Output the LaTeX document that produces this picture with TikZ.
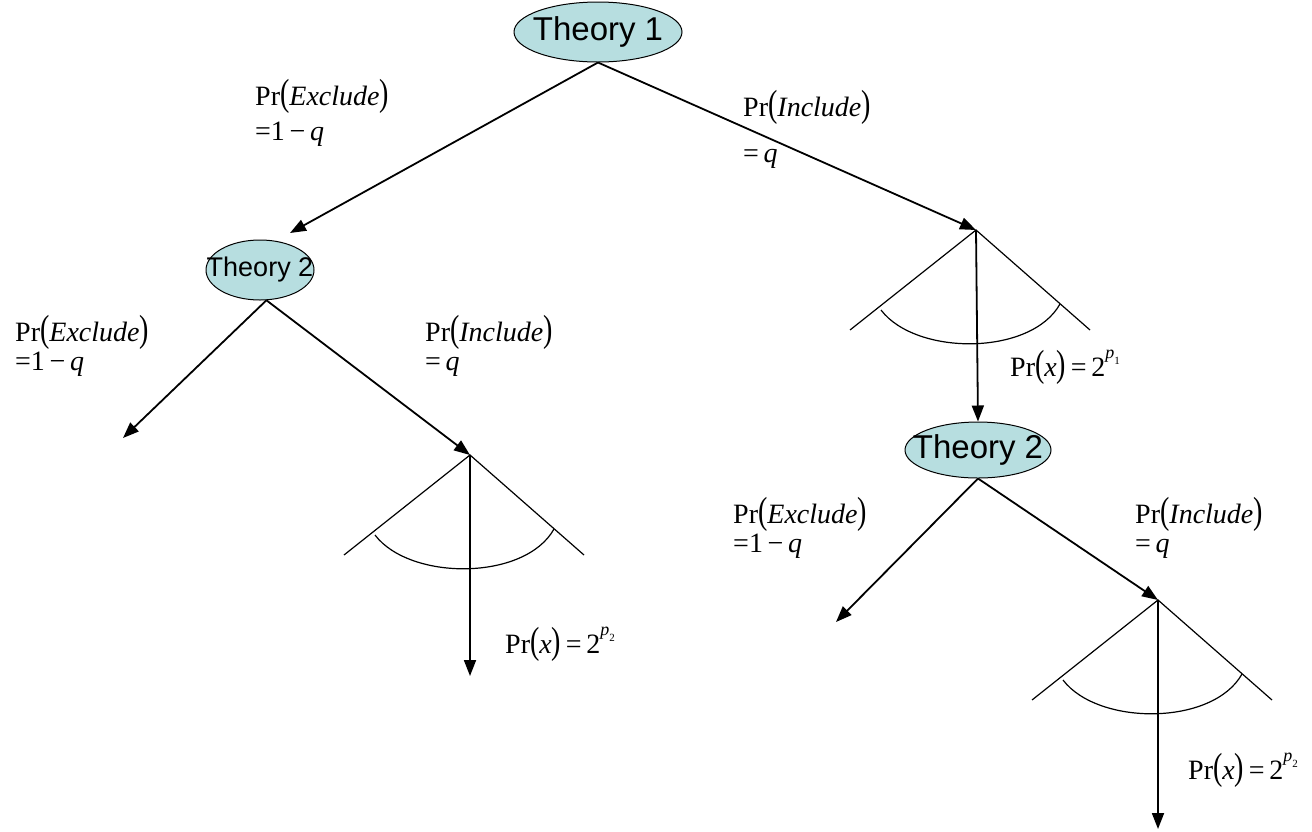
\documentclass[tikz,border=0pt]{standalone}
\usepackage{fontspec}
\setmainfont{Liberation Serif}
\setsansfont{Liberation Sans}
\usetikzlibrary{shapes.geometric,arrows.meta}
\definecolor{tcyan}{RGB}{183,222,224}
\newcommand{\bp}[1]{\scalebox{1}[1.35]{#1}}
\newcommand{\PrE}{Pr\bp{(}\textit{Exclude}\bp{)}}
\newcommand{\PrI}{Pr\bp{(}\textit{Include}\bp{)}}
\newcommand{\PrX}[1]{Pr\bp{(}\textit{x}\bp{)}\,=\,2\raisebox{0.62em}{\fontsize{18}{18}\selectfont\textit{p}\raisebox{-0.3em}{\fontsize{11}{11}\selectfont #1}}}
\newcommand{\zb}[1]{\makebox[0pt]{#1}}
\begin{document}
\begin{tikzpicture}[x=1pt,y=-1pt,
  theory/.style={ellipse, draw, fill=tcyan, line width=1pt, inner sep=0pt, font=\sffamily\fontsize{33}{33}\selectfont},
  lbl/.style={anchor=base west, inner sep=0pt, font=\fontsize{28}{28}\selectfont},
  arr/.style={line width=1.8pt, -{Triangle[length=16pt,width=12pt]}},
  fanline/.style={line width=1.2pt}]
\useasboundingbox (0,0) rectangle (1312,831);

\node[theory, minimum width=168pt, minimum height=60pt] (t1) at (598,32) {\zb{Theory 1}};
\node[theory, minimum width=108pt, minimum height=60pt, font=\sffamily\fontsize{27}{27}\selectfont] (t2a) at (260,270) {\zb{Theory 2}};
\node[theory, minimum width=146pt, minimum height=56pt] (t2b) at (978,450) {\zb{Theory 2}};

\coordinate (f1) at (976,230);
\coordinate (f2) at (470,455);
\coordinate (f3) at (1158,600);
\coordinate (e1) at (290,233);
\coordinate (e2) at (123,438);
\coordinate (e3) at (470,676);
\coordinate (e4) at (836,622);
\coordinate (e5) at (1158,829);

% fans
\foreach \f in {f1,f2,f3}{
  \draw[fanline] ([shift={(-126,100)}]\f) -- (\f) -- ([shift={(114,100)}]\f);
  \draw[fanline] ([shift={(-95,80)}]\f) .. controls ([shift={(-60,126)}]\f) and ([shift={(55,126)}]\f) .. ([shift={(84,74)}]\f);
}

% connectors
\draw[arr] (t1.south) -- (e1);
\draw[arr] (t1.south) -- (f1);
\draw[arr] (f1) -- (t2b.north);
\draw[arr] (t2a.-78) -- (e2);
\draw[arr] (t2a.-78) -- (f2);
\draw[arr] (f2) -- (e3);
\draw[arr] (t2b.south) -- (e4);
\draw[arr] (t2b.south) -- (f3);
\draw[arr] (f3) -- (e5);

% labels
\node[lbl] (la1) at (255,105) {\PrE};
\node[lbl] (la2) at (255,140) {=1\,−\,\textit{q}};
\node[lbl] (lb1) at (743,116) {\PrI};
\node[lbl] (lb2) at (743,162) {=\,\textit{q}};
\node[lbl] (lc1) at (15,341) {\PrE};
\node[lbl] (lc2) at (15,370) {=1\,−\,\textit{q}};
\node[lbl] (ld1) at (425,341) {\PrI};
\node[lbl] (ld2) at (425,370) {=\,\textit{q}};
\node[lbl] (le1) at (733,523) {\PrE};
\node[lbl] (le2) at (733,552) {=1\,−\,\textit{q}};
\node[lbl] (lf1) at (1135,523) {\PrI};
\node[lbl] (lf2) at (1135,552) {=\,\textit{q}};
\node[lbl] (lx1) at (1010,376) {\PrX{1}};
\node[lbl] (lx2) at (505,653) {\PrX{2}};
\node[lbl] (lx3) at (1188,779) {\PrX{2}};
\end{tikzpicture}
\end{document}
